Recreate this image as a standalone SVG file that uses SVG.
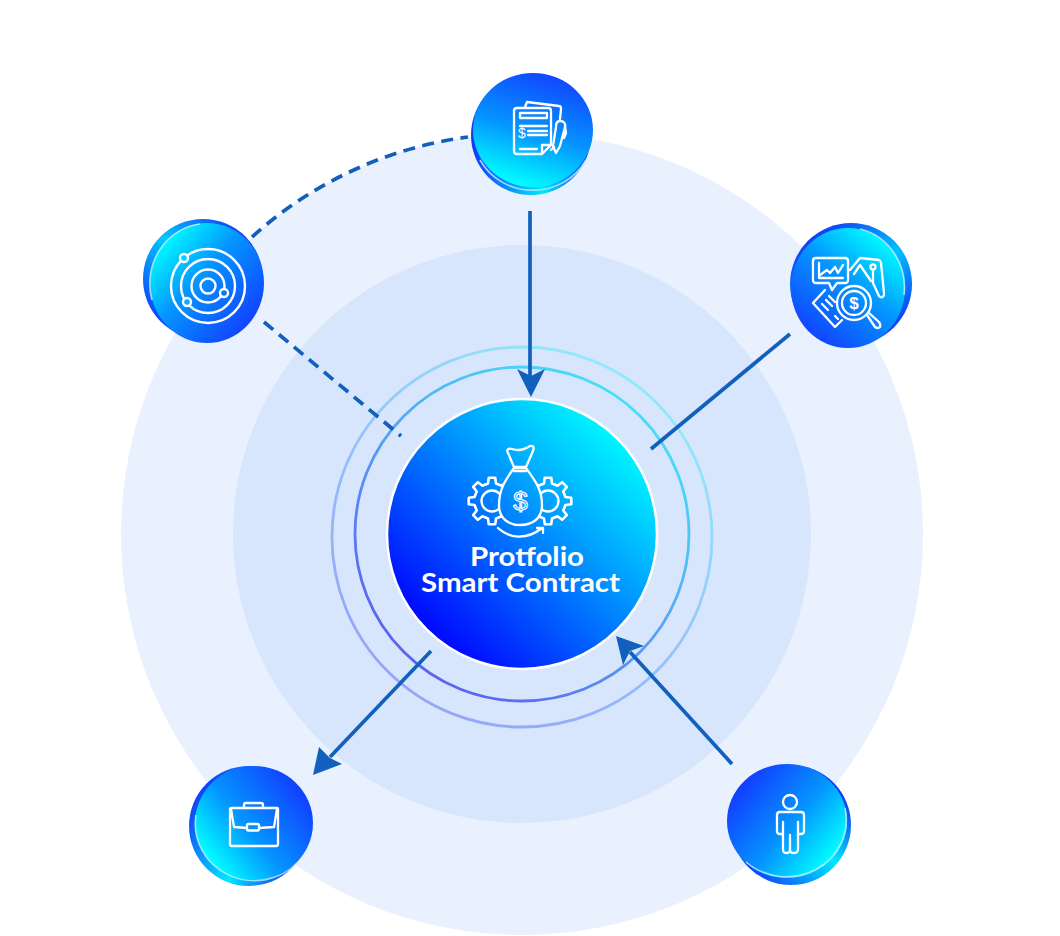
<svg xmlns="http://www.w3.org/2000/svg" width="1060" height="936" viewBox="0 0 1060 936">
<style>
.ic{fill:none;stroke:#fff;stroke-width:2.3;stroke-linecap:round;stroke-linejoin:round}
.con{fill:none;stroke:#1260bd;stroke-width:3.700;stroke-linecap:butt}
.dash{stroke-dasharray:12 7.5}
.hd{fill:#1260bd}
.hl{fill:none;stroke:#c4edff;stroke-width:1.6;stroke-opacity:.8}
.lbl{font-family:"Lato","Open Sans","Liberation Sans",sans-serif;font-weight:700;font-size:27px;fill:#fff;text-anchor:middle}
.dol{font-family:"Liberation Sans",sans-serif;fill:#fff;text-anchor:middle}
</style>
<defs>
<linearGradient id="gc" gradientUnits="userSpaceOnUse" x1="425" y1="640" x2="625" y2="430"><stop offset="0" stop-color="#0000ff"/><stop offset="1" stop-color="#00ffff"/></linearGradient>
<linearGradient id="r1" gradientUnits="userSpaceOnUse" x1="420" y1="670" x2="630" y2="400"><stop offset="0" stop-color="#5a62f2"/><stop offset=".55" stop-color="#58a8f5"/><stop offset="1" stop-color="#45e0f8"/></linearGradient>
<linearGradient id="r2" gradientUnits="userSpaceOnUse" x1="420" y1="690" x2="630" y2="380"><stop offset="0" stop-color="#96a6f8"/><stop offset=".55" stop-color="#96c8fa"/><stop offset="1" stop-color="#90eafc"/></linearGradient>
<linearGradient id="f1" x1=".75" y1="0" x2=".42" y2="1"><stop offset="0" stop-color="#1240ff"/><stop offset=".55" stop-color="#0496ff"/><stop offset="1" stop-color="#00ffff"/></linearGradient>
<linearGradient id="f2" x1=".85" y1=".1" x2=".2" y2=".95"><stop offset="0" stop-color="#00ffff"/><stop offset=".45" stop-color="#0496ff"/><stop offset="1" stop-color="#1240ff"/></linearGradient>
<linearGradient id="f3" x1=".12" y1=".12" x2=".9" y2=".85"><stop offset="0" stop-color="#00ffff"/><stop offset=".42" stop-color="#0496ff"/><stop offset="1" stop-color="#1240ff"/></linearGradient>
<linearGradient id="f4" x1=".1" y1=".8" x2=".9" y2=".2"><stop offset="0" stop-color="#00ffff"/><stop offset=".42" stop-color="#0496ff"/><stop offset="1" stop-color="#1240ff"/></linearGradient>
<linearGradient id="f5" x1=".12" y1=".2" x2=".9" y2=".8"><stop offset="0" stop-color="#1240ff"/><stop offset=".55" stop-color="#0496ff"/><stop offset="1" stop-color="#00ffff"/></linearGradient>
<linearGradient id="b1" x1="0" y1=".5" x2="1" y2=".5"><stop offset="0" stop-color="#1236f5"/><stop offset=".6" stop-color="#00e8ff"/><stop offset="1" stop-color="#1236f5"/></linearGradient>
<linearGradient id="b2" x1=".15" y1=".1" x2=".85" y2=".9"><stop offset="0" stop-color="#1236f5"/><stop offset=".55" stop-color="#00c0ff"/><stop offset="1" stop-color="#1236f5"/></linearGradient>
<linearGradient id="b3" x1=".1" y1=".9" x2=".9" y2=".1"><stop offset="0" stop-color="#1236f5"/><stop offset=".5" stop-color="#00c8ff"/><stop offset="1" stop-color="#1236f5"/></linearGradient>
<linearGradient id="b4" x1=".05" y1=".2" x2=".95" y2=".8"><stop offset="0" stop-color="#1236f5"/><stop offset=".6" stop-color="#00e8ff"/><stop offset="1" stop-color="#1236f5"/></linearGradient>
<linearGradient id="b5" x1=".1" y1=".9" x2=".9" y2=".2"><stop offset="0" stop-color="#1236f5"/><stop offset=".6" stop-color="#00e8ff"/><stop offset="1" stop-color="#1236f5"/></linearGradient>
<path id="gear" transform="scale(1.12)" d="M15.6-3.6L20.8-2.9V2.9L15.6 3.6L13.6 8.5L16.8 12.6L12.6 16.8L8.5 13.6L3.6 15.6L2.9 20.8H-2.9L-3.6 15.6L-8.5 13.6L-12.6 16.8L-16.8 12.6L-13.6 8.5L-15.6 3.6L-20.8 2.9V-2.9L-15.6-3.6L-13.6-8.5L-16.8-12.6L-12.6-16.8L-8.5-13.6L-3.6-15.6L-2.9-20.8H2.9L3.6-15.6L8.5-13.6L12.6-16.8L16.8-12.6L13.6-8.5Z"/>
</defs>

<g id="background">
<circle cx="522" cy="534" r="401" fill="#e9f1fe"/>
<circle cx="522" cy="534" r="289" fill="#d7e6fc"/>
<circle cx="522" cy="534" r="167" fill="none" stroke="url(#r1)" stroke-width="2.8"/>
<circle cx="522" cy="537" r="190" fill="none" stroke="url(#r2)" stroke-width="2.8"/>
</g>

<g id="connectors">
<path class="con dash" d="M252 237A401 401 0 0 1 468 137"/>
<path class="con dash" d="M264 322L401 436"/>
<path class="con" d="M530 211V378"/>
<path class="hd" d="M531 397L517 369L531 376L545 369Z"/>
<path class="con" d="M790 334L651 449"/>
<path class="con" d="M431 651L330 757"/>
<path class="hd" d="M313 775L319 747L330 758L342 764Z"/>
<path class="con" d="M732 764L630 652"/>
<path class="hd" d="M616 636L644 646L630 651L623 665Z"/>
</g>

<g id="node-center">
<circle cx="522" cy="534" r="135" fill="url(#gc)" stroke="#fff" stroke-width="2.500"/>
<g class="ic">
<g transform="translate(492 501)"><use href="#gear"/></g><circle cx="492" cy="501" r="10.500"/>
<g transform="translate(548 501)"><use href="#gear"/></g><circle cx="548" cy="501" r="10.500"/>
<path d="M514 468C506 479 499 489 499 505C499 519 509 525 520 525C532 525 542 519 542 505C542 489 534 479 526 468Z" style="fill:url(#gc)"/>
<path d="M514 467L508 453C506 449 509 448 512 449C518 451 524 450 530 446C534 445 534 448 533 451L526 467M514 467H526M514 471H526"/>
<path d="M498 528C510 539 527 540 542 528M537 528H543V533"/>
</g>
<text class="dol" x="520.500" y="510" font-size="26" style="fill:none;stroke:#fff;stroke-width:1.200">$</text>
<text class="lbl" x="527" y="566" textLength="114" lengthAdjust="spacingAndGlyphs">Protfolio</text>
<text class="lbl" x="520.500" y="592" textLength="199" lengthAdjust="spacingAndGlyphs">Smart Contract</text>
</g>

<g id="node-top">
<circle cx="531" cy="135" r="60" fill="url(#b1)"/>
<ellipse cx="533" cy="130" rx="60" ry="57" fill="url(#f1)"/>
<path class="hl" d="M480 160A60 57 0 0 0 586 160"/>
<g class="ic">
<path d="M542 154H517Q514 154 514 151V111Q514 108 517 108H548Q551 108 551 111V145L542 154V145H551"/>
<path d="M525 107L527 102L559 106Q561 106 561 109L560 119M551 150L554 147"/>
<path d="M520 113H547V118H520ZM520 126H547M528 131H547M528 135H547M520 149H537"/>
<path d="M560 121C564 121 566 124 565 127L560 146L556 153L553 146L556 127C556 124 557 121 560 121ZM565 126L566 133L564 138"/>
</g>
<text class="dol" x="522" y="138" font-size="14">$</text>
</g>

<g id="node-right">
<circle cx="851" cy="284" r="61" fill="url(#b2)"/>
<ellipse cx="848" cy="288" rx="57" ry="60" fill="url(#f2)"/>
<path class="hl" d="M860 229A57 60 0 0 1 904 295"/>
<g class="ic">
<path d="M816 258H845Q848 258 848 261V280Q848 283 845 283H837L832 290L829 283H816Q813 283 813 280V261Q813 258 816 258Z"/>
<path d="M819 263V278H843M820 275L827 270L830 273L835 267L838 273L843 265"/>
<path d="M850 270L860 258L879 260Q881 261 881 263L884 293M854 274L860 265L871 281"/>
<circle cx="873" cy="267" r="2.500"/>
<path d="M873 270V283M873 283L879 296Q882 299 884 295"/>
<path d="M825 290L813 303L835 327L842 320M829 296L835 302M826 300L832 306M822 304L828 310M835 316L838 319"/>
<circle cx="854" cy="303" r="17"/><circle cx="854" cy="303" r="12"/>
<path d="M867 315L875 327Q878 329 880 327Q881 325 879 322L869 313"/>
</g>
<text class="dol" x="854" y="309" font-size="17" font-weight="700">$</text>
</g>

<g id="node-left">
<circle cx="203" cy="279" r="60" fill="url(#b3)"/>
<ellipse cx="207" cy="283" rx="57" ry="60" fill="url(#f3)"/>
<path class="hl" d="M152 300A57 60 0 0 1 200 224"/>
<g class="ic" style="stroke-width:2.400">
<circle cx="208" cy="286" r="7.500"/>
<circle cx="208" cy="286" r="16.500"/>
<circle cx="208" cy="286" r="27"/>
<circle cx="208" cy="286" r="37"/>
<circle cx="184" cy="258" r="4" style="fill:#06d0ff"/>
<circle cx="187" cy="302" r="4" style="fill:#05b0ff"/>
<circle cx="224" cy="293" r="4" style="fill:#0676ff"/>
</g>
</g>

<g id="node-bottom-left">
<circle cx="249" cy="826" r="60" fill="url(#b4)"/>
<ellipse cx="254" cy="823" rx="59" ry="57" fill="url(#f4)"/>
<path class="hl" d="M196 815A59 57 0 0 0 298 862"/>
<g class="ic">
<path d="M232 808H277Q278 808 278 809V844Q278 846 276 846H232Q230 846 230 844V809Q230 808 232 808Z"/>
<path d="M244 808V805Q244 803 246 803H261Q263 803 263 805V808"/>
<path d="M231 809L234 827L247 828M277 809L274 827L259 828"/>
<rect x="247" y="824" width="12" height="6.500" rx="1.500"/>
</g>
</g>

<g id="node-bottom-right">
<circle cx="791" cy="825" r="60" fill="url(#b5)"/>
<ellipse cx="787" cy="821" rx="60" ry="57" fill="url(#f5)"/>
<path class="hl" d="M746 862A60 57 0 0 0 845 808"/>
<g class="ic">
<circle cx="790" cy="802" r="7"/>
<path d="M783 822V849Q783 853 786 853Q790 853 790 850V835V850Q790 853 794 853Q798 853 798 849V822"/>
<path d="M783 834H780Q777 834 777 831V815Q777 812 780 812H801Q804 812 804 815V831Q804 834 801 834H798"/>
</g>
</g>
</svg>
